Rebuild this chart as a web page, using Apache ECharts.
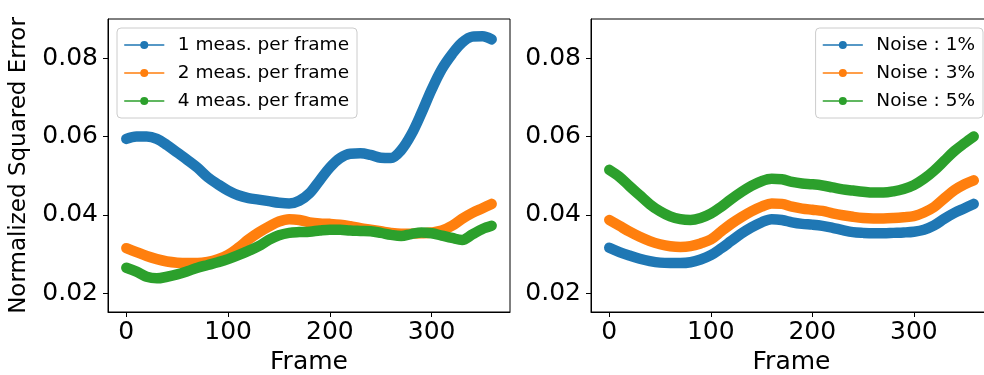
<!DOCTYPE html>
<html><head><meta charset="utf-8">
<script src="https://cdn.jsdelivr.net/npm/echarts@6/dist/echarts.min.js"></script>
<style>html,body{margin:0;padding:0;background:#fff}#c{width:984px;height:375px}</style>
</head><body><div id="c"></div>
<script>
// ---- data ----
const frames = [0,10,20,30,40,50,60,70,80,90,100,110,120,130,140,150,160,170,180,190,200,210,220,230,240,250,260,270,280,290,300,310,320,330,340,350,359];
const leftNames = ['1 meas. per frame','2 meas. per frame','4 meas. per frame'];
const rightNames = ['Noise : 1%','Noise : 3%','Noise : 5%'];
const meas1 = [0.0594,0.0600,0.0600,0.0594,0.0578,0.0559,0.0540,0.0520,0.0496,0.0478,0.0462,0.0450,0.0443,0.0439,0.0435,0.0431,0.0429,0.0436,0.0455,0.0488,0.0521,0.0545,0.0556,0.0557,0.0553,0.0546,0.0545,0.0565,0.0605,0.0660,0.0720,0.0772,0.0810,0.0840,0.0855,0.0856,0.0848];
const meas2 = [0.0315,0.0305,0.0295,0.0287,0.0281,0.0278,0.0277,0.0277,0.0280,0.0287,0.0298,0.0316,0.0337,0.0355,0.0370,0.0383,0.0389,0.0387,0.0381,0.0378,0.0377,0.0375,0.0371,0.0366,0.0362,0.0358,0.0354,0.0352,0.0352,0.0353,0.0355,0.0360,0.0372,0.0390,0.0405,0.0417,0.0428];
const meas4 = [0.0265,0.0255,0.0242,0.0238,0.0242,0.0248,0.0256,0.0265,0.0272,0.0279,0.0287,0.0297,0.0308,0.0320,0.0336,0.0348,0.0354,0.0356,0.0357,0.0360,0.0362,0.0362,0.0360,0.0359,0.0358,0.0354,0.0349,0.0346,0.0351,0.0355,0.0353,0.0347,0.0341,0.0336,0.0350,0.0364,0.0372];
const noise1 = [0.0316,0.0305,0.0296,0.0288,0.0282,0.0278,0.0277,0.0277,0.0279,0.0286,0.0297,0.0314,0.0333,0.0352,0.0368,0.0381,0.0389,0.0387,0.0381,0.0377,0.0375,0.0372,0.0367,0.0361,0.0356,0.0354,0.0353,0.0353,0.0354,0.0355,0.0357,0.0362,0.0373,0.0390,0.0405,0.0417,0.0428];
const noise3 = [0.0387,0.0372,0.0357,0.0344,0.0333,0.0325,0.0320,0.0318,0.0320,0.0327,0.0337,0.0357,0.0377,0.0394,0.0409,0.0421,0.0429,0.0428,0.0421,0.0416,0.0413,0.0410,0.0404,0.0399,0.0395,0.0392,0.0391,0.0391,0.0392,0.0394,0.0397,0.0406,0.0420,0.0442,0.0463,0.0478,0.0488];
const noise5 = [0.0515,0.0497,0.0473,0.0450,0.0427,0.0409,0.0396,0.0389,0.0387,0.0392,0.0403,0.0420,0.0440,0.0458,0.0474,0.0486,0.0492,0.0491,0.0484,0.0480,0.0478,0.0475,0.0470,0.0465,0.0462,0.0459,0.0457,0.0457,0.0460,0.0466,0.0476,0.0492,0.0513,0.0538,0.0563,0.0583,0.0600];
const xTicks = [0,100,200,300];
const yTicks = [0.02,0.04,0.06,0.08];
const colors = ['#1f77b4','#ff7f0e','#2ca02c'];

// ---- chart ----
const FONT = 'DejaVu Sans';
const chart = echarts.init(document.getElementById('c'), null, {renderer:'canvas'});
function pairs(vals){ return frames.map((f,i)=>[f, vals[i]]); }
function xAxis(gi){
  return {
    type:'value', gridIndex:gi, min:-18, max:377, name:'Frame', nameLocation:'middle', nameGap:37,
    nameTextStyle:{fontFamily:FONT, fontSize:25, color:'#000'},
    axisLine:{show:true, onZero:false, lineStyle:{color:'#000', width:1}},
    axisTick:{show:true, length:5, lineStyle:{color:'#000', width:1}, customValues:xTicks},
    axisLabel:{fontFamily:FONT, fontSize:25, color:'#000', margin:8, customValues:xTicks, formatter:v=>String(v)},
    splitLine:{show:false}
  };
}
function yAxis(gi, withName){
  return {
    type:'value', gridIndex:gi, min:0.0152, max:0.0900,
    name: withName ? 'Normalized Squared Error' : '', nameLocation:'middle', nameGap:77, nameRotate:90,
    nameTextStyle:{fontFamily:FONT, fontSize:23, color:'#000'},
    axisLine:{show:true, onZero:false, lineStyle:{color:'#000', width:1}},
    axisTick:{show:true, length:5, lineStyle:{color:'#000', width:1}, customValues:yTicks},
    axisLabel:{fontFamily:FONT, fontSize:25, color:'#000', margin:10, customValues:yTicks, formatter:v=>v.toFixed(2)},
    splitLine:{show:false}
  };
}
function series(name, vals, gi, ci){
  return {
    type:'line', name:name, xAxisIndex:gi, yAxisIndex:gi, data:pairs(vals),
    smooth:0.35, symbol:'circle', showSymbol:false, color:colors[ci],
    lineStyle:{width:10.5, color:colors[ci], cap:'round', join:'round'},
    emphasis:{disabled:true}, animation:false
  };
}
function legend(names, pos){
  return Object.assign({
    data:names, orient:'vertical', top:28, itemWidth:39, itemHeight:10, itemGap:8,
    padding:[7,8,7,7], backgroundColor:'rgba(255,255,255,0.8)', borderColor:'#cccccc', borderWidth:1, borderRadius:4,
    textStyle:{fontFamily:FONT, fontSize:18.5, color:'#000', lineHeight:20, padding:[0,0,0,9]},
    lineStyle:{width:1.5}, itemStyle:{borderWidth:0}, selectedMode:false
  }, pos);
}
chart.setOption({
  animation:false,
  backgroundColor:'#fff',
  grid:[
    {left:108, top:19, width:402, height:293, show:true, borderColor:'#000', borderWidth:1, backgroundColor:'transparent', outerBoundsMode:'none'},
    {left:591, top:19, width:401, height:293, show:true, borderColor:'#000', borderWidth:1, backgroundColor:'transparent', outerBoundsMode:'none'}
  ],
  xAxis:[xAxis(0), xAxis(1)],
  yAxis:[yAxis(0,true), yAxis(1,false)],
  legend:[legend(leftNames,{left:117}), legend(rightNames,{right:1})],
  series:[
    series(leftNames[0], meas1, 0, 0),
    series(leftNames[1], meas2, 0, 1),
    series(leftNames[2], meas4, 0, 2),
    series(rightNames[0], noise1, 1, 0),
    series(rightNames[1], noise3, 1, 1),
    series(rightNames[2], noise5, 1, 2)
  ]
});
</script>
</body></html>
